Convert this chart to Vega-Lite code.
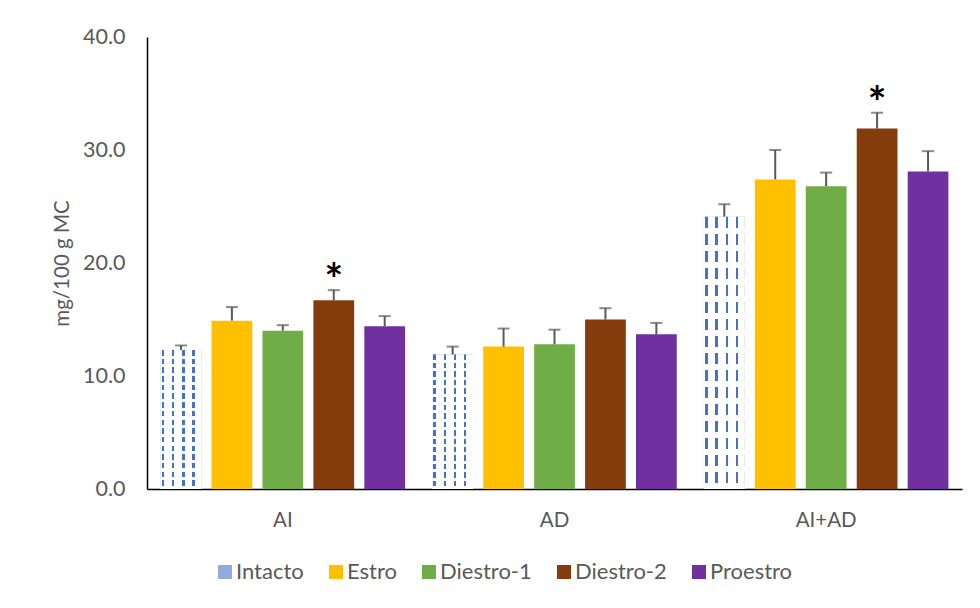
{
  "$schema": "https://vega.github.io/schema/vega-lite/v6.json",
  "width": 815,
  "height": 452,
  "autosize": {"type": "none"},
  "padding": {"left": 147, "top": 37, "right": 18, "bottom": 119},
  "background": "white",
  "config": {
    "font": "Lato",
    "view": {"stroke": null},
    "axis": {"labelColor": "#595959", "titleColor": "#595959", "grid": false, "ticks": false, "domainColor": "#000000", "domainWidth": 1.5}
  },
  "data": {
    "values": [
      {"group": "AI", "cond": "Intacto", "value": 12.3, "upper": 12.7, "star": ""},
      {"group": "AI", "cond": "Estro", "value": 14.9, "upper": 16.1, "star": ""},
      {"group": "AI", "cond": "Diestro-1", "value": 14.0, "upper": 14.5, "star": ""},
      {"group": "AI", "cond": "Diestro-2", "value": 16.7, "upper": 17.6, "star": "*"},
      {"group": "AI", "cond": "Proestro", "value": 14.4, "upper": 15.3, "star": ""},
      {"group": "AD", "cond": "Intacto", "value": 11.9, "upper": 12.6, "star": ""},
      {"group": "AD", "cond": "Estro", "value": 12.6, "upper": 14.2, "star": ""},
      {"group": "AD", "cond": "Diestro-1", "value": 12.8, "upper": 14.1, "star": ""},
      {"group": "AD", "cond": "Diestro-2", "value": 15.0, "upper": 16.0, "star": ""},
      {"group": "AD", "cond": "Proestro", "value": 13.7, "upper": 14.7, "star": ""},
      {"group": "AI+AD", "cond": "Intacto", "value": 24.1, "upper": 25.2, "star": ""},
      {"group": "AI+AD", "cond": "Estro", "value": 27.4, "upper": 30.0, "star": ""},
      {"group": "AI+AD", "cond": "Diestro-1", "value": 26.8, "upper": 28.0, "star": ""},
      {"group": "AI+AD", "cond": "Diestro-2", "value": 31.9, "upper": 33.3, "star": "*"},
      {"group": "AI+AD", "cond": "Proestro", "value": 28.1, "upper": 29.9, "star": ""}
    ]
  },
  "encoding": {
    "x": {
      "field": "group", "type": "nominal", "sort": ["AI", "AD", "AI+AD"],
      "scale": {"paddingInner": 0.1, "paddingOuter": 0.05},
      "axis": {"title": null, "labelAngle": 0, "labelFontSize": 20.5, "labelPadding": 21}
    },
    "xOffset": {
      "field": "cond", "type": "nominal", "sort": ["Intacto", "Estro", "Diestro-1", "Diestro-2", "Proestro"],
      "scale": {"paddingInner": 0.2, "paddingOuter": 0}
    },
    "y": {
      "field": "value", "type": "quantitative",
      "scale": {"domain": [0, 40], "nice": false},
      "axis": {"values": [0, 10, 20, 30, 40], "format": ".1f", "title": "mg/100 g MC", "titleFontSize": 20.5, "titleFontWeight": "normal", "titlePadding": 10, "labelFontSize": 21.5, "labelPadding": 22}
    }
  },
  "layer": [
    {
      "mark": {"type": "bar"},
      "encoding": {
        "color": {
          "field": "cond", "type": "nominal",
          "sort": ["Intacto", "Estro", "Diestro-1", "Diestro-2", "Proestro"],
          "scale": {
            "domain": ["Intacto", "Estro", "Diestro-1", "Diestro-2", "Proestro"],
            "range": ["#8faadc", "#ffc000", "#70ad47", "#843c0c", "#7030a0"]
          },
          "legend": {
            "title": null, "orient": "none", "direction": "horizontal",
            "legendX": 67, "legendY": 524,
            "symbolType": "square", "symbolSize": 196, "symbolStrokeWidth": 0,
            "labelFontSize": 22, "labelColor": "#595959", "labelOffset": 0,
            "columnPadding": 21
          }
        }
      }
    },
    {
      "transform": [{"filter": "datum.cond === 'Intacto'"}],
      "mark": {"type": "bar", "fill": {"gradient": "linear", "x1": 0, "x2": 1, "y1": 0, "y2": 0, "stops": [
        {"offset": 0, "color": "#ffffff"},
        {"offset": 0.03, "color": "#ffffff"},
        {"offset": 0.03, "color": "#4472c4"},
        {"offset": 0.09, "color": "#4472c4"},
        {"offset": 0.09, "color": "#ffffff"},
        {"offset": 0.28, "color": "#ffffff"},
        {"offset": 0.28, "color": "#4472c4"},
        {"offset": 0.34, "color": "#4472c4"},
        {"offset": 0.34, "color": "#ffffff"},
        {"offset": 0.53, "color": "#ffffff"},
        {"offset": 0.53, "color": "#4472c4"},
        {"offset": 0.59, "color": "#4472c4"},
        {"offset": 0.59, "color": "#ffffff"},
        {"offset": 0.78, "color": "#ffffff"},
        {"offset": 0.78, "color": "#4472c4"},
        {"offset": 0.84, "color": "#4472c4"},
        {"offset": 0.84, "color": "#ffffff"},
        {"offset": 1, "color": "#ffffff"}
      ]}},
      "encoding": {}
    },
    {
      "transform": [{"filter": "datum.cond === 'Intacto'"}],
      "mark": {"type": "bar", "fill": {"gradient": "linear", "x1": 0, "x2": 0, "y1": 0, "y2": 1, "stops": [
        {"offset": 0, "color": "rgba(255,255,255,0)"}, {"offset": 0.04, "color": "rgba(255,255,255,0)"}, {"offset": 0.04, "color": "#ffffff"}, {"offset": 0.0625, "color": "#ffffff"},
        {"offset": 0.0625, "color": "rgba(255,255,255,0)"}, {"offset": 0.1025, "color": "rgba(255,255,255,0)"}, {"offset": 0.1025, "color": "#ffffff"}, {"offset": 0.125, "color": "#ffffff"},
        {"offset": 0.125, "color": "rgba(255,255,255,0)"}, {"offset": 0.165, "color": "rgba(255,255,255,0)"}, {"offset": 0.165, "color": "#ffffff"}, {"offset": 0.1875, "color": "#ffffff"},
        {"offset": 0.1875, "color": "rgba(255,255,255,0)"}, {"offset": 0.2275, "color": "rgba(255,255,255,0)"}, {"offset": 0.2275, "color": "#ffffff"}, {"offset": 0.25, "color": "#ffffff"},
        {"offset": 0.25, "color": "rgba(255,255,255,0)"}, {"offset": 0.29, "color": "rgba(255,255,255,0)"}, {"offset": 0.29, "color": "#ffffff"}, {"offset": 0.3125, "color": "#ffffff"},
        {"offset": 0.3125, "color": "rgba(255,255,255,0)"}, {"offset": 0.3525, "color": "rgba(255,255,255,0)"}, {"offset": 0.3525, "color": "#ffffff"}, {"offset": 0.375, "color": "#ffffff"},
        {"offset": 0.375, "color": "rgba(255,255,255,0)"}, {"offset": 0.415, "color": "rgba(255,255,255,0)"}, {"offset": 0.415, "color": "#ffffff"}, {"offset": 0.4375, "color": "#ffffff"},
        {"offset": 0.4375, "color": "rgba(255,255,255,0)"}, {"offset": 0.4775, "color": "rgba(255,255,255,0)"}, {"offset": 0.4775, "color": "#ffffff"}, {"offset": 0.5, "color": "#ffffff"},
        {"offset": 0.5, "color": "rgba(255,255,255,0)"}, {"offset": 0.54, "color": "rgba(255,255,255,0)"}, {"offset": 0.54, "color": "#ffffff"}, {"offset": 0.5625, "color": "#ffffff"},
        {"offset": 0.5625, "color": "rgba(255,255,255,0)"}, {"offset": 0.6025, "color": "rgba(255,255,255,0)"}, {"offset": 0.6025, "color": "#ffffff"}, {"offset": 0.625, "color": "#ffffff"},
        {"offset": 0.625, "color": "rgba(255,255,255,0)"}, {"offset": 0.665, "color": "rgba(255,255,255,0)"}, {"offset": 0.665, "color": "#ffffff"}, {"offset": 0.6875, "color": "#ffffff"},
        {"offset": 0.6875, "color": "rgba(255,255,255,0)"}, {"offset": 0.7275, "color": "rgba(255,255,255,0)"}, {"offset": 0.7275, "color": "#ffffff"}, {"offset": 0.75, "color": "#ffffff"},
        {"offset": 0.75, "color": "rgba(255,255,255,0)"}, {"offset": 0.79, "color": "rgba(255,255,255,0)"}, {"offset": 0.79, "color": "#ffffff"}, {"offset": 0.8125, "color": "#ffffff"},
        {"offset": 0.8125, "color": "rgba(255,255,255,0)"}, {"offset": 0.8525, "color": "rgba(255,255,255,0)"}, {"offset": 0.8525, "color": "#ffffff"}, {"offset": 0.875, "color": "#ffffff"},
        {"offset": 0.875, "color": "rgba(255,255,255,0)"}, {"offset": 0.915, "color": "rgba(255,255,255,0)"}, {"offset": 0.915, "color": "#ffffff"}, {"offset": 0.9375, "color": "#ffffff"},
        {"offset": 0.9375, "color": "rgba(255,255,255,0)"}, {"offset": 0.9775, "color": "rgba(255,255,255,0)"}, {"offset": 0.9775, "color": "#ffffff"}, {"offset": 1, "color": "#ffffff"}
      ]}},
      "encoding": {}
    },
    {
      "mark": {"type": "rule", "color": "#595959", "strokeWidth": 2},
      "encoding": {
        "y2": {"field": "upper"}
      }
    },
    {
      "mark": {"type": "tick", "color": "#595959", "thickness": 2, "size": 12, "orient": "horizontal"},
      "encoding": {
        "y": {"field": "upper", "type": "quantitative"}
      }
    },
    {
      "mark": {"type": "text", "fontSize": 44, "fontWeight": "bold", "color": "#000000", "baseline": "bottom", "dy": 14},
      "encoding": {
        "y": {"field": "upper", "type": "quantitative"},
        "text": {"field": "star"}
      }
    }
  ]
}
